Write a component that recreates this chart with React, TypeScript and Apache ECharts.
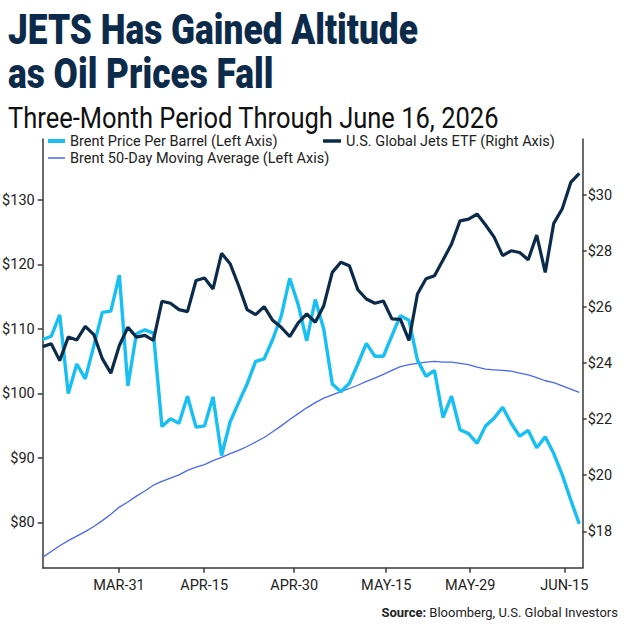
import { useEffect, useRef } from "react";
import * as echarts from "echarts";

// Brent price per barrel (left axis), one value per trading day
const brent = [
  108.4, 108.9, 112.2, 100.0, 104.6, 102.3, 107.4, 112.6, 112.8, 118.4,
  101.2, 109.3, 109.9, 109.4, 94.9, 96.1, 95.4, 99.6, 94.8, 95.0,
  99.5, 90.4, 95.6, 98.6, 101.5, 105.0, 105.4, 108.4, 112.0, 117.9,
  113.8, 108.2, 114.6, 110.0, 101.5, 100.3, 101.6, 104.6, 107.8, 105.8,
  105.8, 109.0, 112.1, 111.4, 105.2, 102.7, 103.6, 96.3, 99.6, 94.4,
  93.8, 92.3, 95.0, 96.2, 97.9, 95.4, 93.4, 94.3, 91.6, 93.3,
  90.7, 87.4, 83.5, 79.8,
];

// U.S. Global Jets ETF (right axis)
const jets = [
  24.59, 24.69, 24.09, 24.93, 24.83, 25.31, 25.02, 24.16, 23.64, 24.63,
  25.28, 24.93, 24.99, 24.81, 26.21, 26.14, 25.91, 25.84, 26.95, 27.04,
  26.65, 27.92, 27.55, 26.77, 25.91, 25.73, 26.02, 25.53, 25.28, 24.95,
  25.44, 25.76, 25.46, 26.05, 27.24, 27.6, 27.48, 26.62, 26.29, 26.14,
  26.22, 25.58, 25.56, 24.81, 26.47, 27.01, 27.12, 27.68, 28.25, 29.08,
  29.14, 29.32, 28.93, 28.5, 27.84, 28.01, 27.95, 27.69, 28.57, 27.24,
  28.99, 29.51, 30.45, 30.77,
];

// Brent 50-day moving average (left axis)
const brentMA = [
  74.6, 75.5, 76.4, 77.2, 77.9, 78.6, 79.4, 80.3, 81.3, 82.4,
  83.2, 84.1, 84.9, 85.8, 86.4, 86.9, 87.4, 88.1, 88.6, 89.0,
  89.6, 90.1, 90.7, 91.2, 91.8, 92.5, 93.2, 94.1, 95.0, 96.0,
  96.9, 97.8, 98.6, 99.3, 99.8, 100.3, 100.8, 101.3, 101.9, 102.4,
  103.0, 103.6, 104.2, 104.5, 104.7, 104.9, 105.0, 104.9, 104.9, 104.7,
  104.5, 104.1, 103.8, 103.7, 103.6, 103.5, 103.2, 102.9, 102.5, 102.0,
  101.7, 101.2, 100.7, 100.2,
];

// x-axis tick labels and where they sit along the trading-day index
const xTickLabels = ["MAR-31", "APR-15", "APR-30", "MAY-15", "MAY-29", "JUN-15"];
const xTickPositions = [8.96, 18.95, 29.52, 40.33, 50.19, 61.24];
const leftTicks = [80, 90, 100, 110, 120, 130];
const rightTicks = [18, 20, 22, 24, 26, 28, 30];

const SERIES_BRENT = "Brent Price Per Barrel (Left Axis)";
const SERIES_JETS = "U.S. Global Jets ETF (Right Axis)";
const SERIES_MA = "Brent 50-Day Moving Average (Left Axis)";

const NAVY = "#0c2b4b";
const LIGHT = "#18bff2";
const MA_BLUE = "#4a68f0";
const AXIS = "#3a3a3a";
const FONT = "Roboto";

export default function App() {
  const ref = useRef<HTMLDivElement>(null);

  useEffect(() => {
    if (!ref.current) return;
    const chart = echarts.init(ref.current, null, { renderer: "svg" });

    const toPairs = (arr: number[]) => arr.map((v, i) => [i, v]);

    const legendText = { color: "#222", fontSize: 14.5, fontFamily: FONT };

    chart.setOption({
      animation: false,
      backgroundColor: "#ffffff",
      textStyle: { fontFamily: FONT },
      grid: {
        left: 42.7,
        right: 41.3,
        top: 139,
        bottom: 56.3,
        containLabel: false,
        outerBoundsMode: "none",
      },
      legend: [
        {
          data: [{ name: SERIES_BRENT, icon: "rect" }],
          left: 48,
          top: 133.5,
          padding: 0,
          itemWidth: 17,
          itemHeight: 4,
          textStyle: legendText,
          selectedMode: false,
        },
        {
          data: [{ name: SERIES_JETS, icon: "rect" }],
          left: 323,
          top: 133.5,
          padding: 0,
          itemWidth: 18,
          itemHeight: 3.5,
          textStyle: legendText,
          selectedMode: false,
        },
        {
          data: [{ name: SERIES_MA, icon: "rect" }],
          left: 48,
          top: 150.5,
          padding: 0,
          itemWidth: 17,
          itemHeight: 1.5,
          textStyle: legendText,
          selectedMode: false,
        },
      ],
      xAxis: {
        type: "value",
        min: 0,
        max: 63.4,
        splitLine: { show: false },
        axisLine: { show: true, onZero: false, lineStyle: { color: AXIS, width: 1.5 } },
        axisTick: {
          show: true,
          length: 5,
          customValues: xTickPositions,
          lineStyle: { color: AXIS, width: 1.5 },
        },
        axisLabel: {
          customValues: xTickPositions,
          margin: 10,
          color: "#222",
          fontSize: 14.5,
          fontFamily: FONT,
          formatter: (v: number) => {
            let best = 0;
            for (let k = 1; k < xTickPositions.length; k++) {
              if (Math.abs(xTickPositions[k] - v) < Math.abs(xTickPositions[best] - v)) best = k;
            }
            return xTickLabels[best];
          },
        },
      },
      yAxis: [
        {
          type: "value",
          position: "left",
          min: 73,
          max: 139.5,
          splitLine: { show: false },
          axisLine: { show: true, onZero: false, lineStyle: { color: AXIS, width: 1.5 } },
          axisTick: {
            show: true,
            length: 5,
            customValues: leftTicks,
            lineStyle: { color: AXIS, width: 1.5 },
          },
          axisLabel: {
            customValues: leftTicks,
            margin: 8,
            color: "#222",
            fontSize: 14.5,
            fontFamily: FONT,
            formatter: (v: number) => "$" + v,
          },
        },
        {
          type: "value",
          position: "right",
          min: 16.7,
          max: 32,
          splitLine: { show: false },
          axisLine: { show: true, onZero: false, lineStyle: { color: AXIS, width: 1.5 } },
          axisTick: {
            show: true,
            length: 4,
            customValues: rightTicks,
            lineStyle: { color: AXIS, width: 1.5 },
          },
          axisLabel: {
            customValues: rightTicks,
            margin: 5,
            color: "#222",
            fontSize: 14.5,
            fontFamily: FONT,
            formatter: (v: number) => "$" + v,
          },
        },
      ],
      series: [
        {
          name: SERIES_MA,
          type: "line",
          yAxisIndex: 0,
          data: toPairs(brentMA),
          showSymbol: false,
          symbol: "none",
          color: MA_BLUE,
          lineStyle: { color: MA_BLUE, width: 1.3 },
          z: 2,
        },
        {
          name: SERIES_BRENT,
          type: "line",
          yAxisIndex: 0,
          data: toPairs(brent),
          showSymbol: false,
          symbol: "none",
          color: LIGHT,
          lineStyle: { color: LIGHT, width: 3.4 },
          z: 3,
        },
        {
          name: SERIES_JETS,
          type: "line",
          yAxisIndex: 1,
          data: toPairs(jets),
          showSymbol: false,
          symbol: "none",
          color: NAVY,
          lineStyle: { color: NAVY, width: 3.2 },
          z: 4,
        },
      ],
      graphic: [
        {
          type: "text",
          x: 8,
          y: 29,
          scaleX: 0.84,
          style: {
            text: "JETS Has Gained Altitude",
            fontSize: 42,
            fontWeight: 900,
            fontFamily: FONT,
            fill: NAVY,
            align: "left",
            verticalAlign: "middle",
          },
        },
        {
          type: "text",
          x: 8,
          y: 73,
          scaleX: 0.84,
          style: {
            text: "as Oil Prices Fall",
            fontSize: 42,
            fontWeight: 900,
            fontFamily: FONT,
            fill: NAVY,
            align: "left",
            verticalAlign: "middle",
          },
        },
        {
          type: "text",
          x: 8,
          y: 118,
          scaleX: 0.85,
          style: {
            text: "Three-Month Period Through June 16, 2026",
            fontSize: 30,
            fontWeight: "normal",
            fontFamily: FONT,
            fill: "#111",
            align: "left",
            verticalAlign: "middle",
          },
        },
        {
          type: "text",
          x: 618,
          y: 612,
          style: {
            text: "{b|Source:} Bloomberg, U.S. Global Investors",
            rich: {
              b: { fontWeight: "bold", fontSize: 13, fontFamily: FONT, fill: "#222" },
            },
            fontSize: 13,
            fontFamily: FONT,
            fill: "#222",
            align: "right",
            verticalAlign: "middle",
          },
        },
      ],
    });

    return () => chart.dispose();
  }, []);

  return (
    <div
      ref={ref}
      style={{ position: "fixed", left: 0, top: 0, width: 624, height: 624, background: "#fff" }}
    />
  );
}
